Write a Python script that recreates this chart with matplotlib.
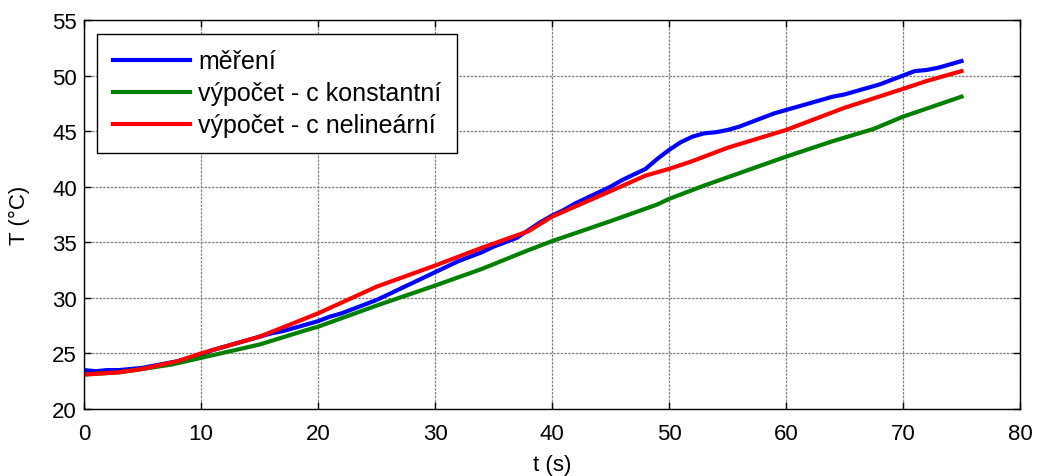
import matplotlib
matplotlib.use("Agg")
import matplotlib.pyplot as plt
import numpy as np

# Mereni (namerene hodnoty, cteno po 1 s)
t_mereni = np.arange(0, 76)
T_mereni = [
    23.5, 23.4, 23.5, 23.5, 23.6, 23.7, 23.9, 24.1, 24.3, 24.6,
    24.9, 25.3, 25.6, 25.9, 26.2, 26.5, 26.8, 27.0, 27.3, 27.6,
    27.9, 28.3, 28.6, 29.0, 29.4, 29.8, 30.3, 30.8, 31.3, 31.8,
    32.3, 32.8, 33.3, 33.7, 34.1, 34.6, 35.0, 35.4, 36.1, 36.8,
    37.4, 37.9, 38.5, 39.0, 39.5, 40.0, 40.6, 41.1, 41.6, 42.5,
    43.3, 44.0, 44.5, 44.8, 44.9, 45.1, 45.4, 45.8, 46.2, 46.6,
    46.9, 47.2, 47.5, 47.8, 48.1, 48.3, 48.6, 48.9, 49.2, 49.6,
    50.0, 50.4, 50.5, 50.7, 51.0, 51.3,
]

# Vypocet - c konstantni
t_konst = [0, 3, 5, 7.5, 10, 15, 19, 20, 25, 30, 34, 38, 40, 45, 49, 50,
           53, 56.5, 60, 64, 67.5, 70, 75]
T_konst = [23.1, 23.3, 23.6, 24.0, 24.6, 25.8, 27.1, 27.4, 29.3, 31.1, 32.6,
           34.3, 35.1, 36.9, 38.4, 38.9, 40.1, 41.4, 42.7, 44.1, 45.2, 46.3, 48.1]

# Vypocet - c nelinearni
t_nelin = [0, 3, 5, 8, 10, 15, 20, 25, 30, 34, 38, 40, 45, 48, 50, 52, 55,
           60, 65, 70, 72, 75]
T_nelin = [23.1, 23.3, 23.6, 24.3, 25.0, 26.5, 28.6, 31.0, 32.9, 34.5, 36.0,
           37.3, 39.6, 41.0, 41.6, 42.3, 43.5, 45.1, 47.1, 48.8, 49.5, 50.4]

x_ticks = np.arange(0, 81, 10)
y_ticks = np.arange(20, 56, 5)

plt.rcParams["font.family"] = ["Liberation Sans", "DejaVu Sans"]

fig = plt.figure(figsize=(10.37, 4.77), dpi=100)
ax = fig.add_axes([0.081, 0.1405, 0.9026, 0.8155])

lw = 3.0
ax.plot(t_mereni, T_mereni, color="#0000ff", linewidth=lw, label="měření")
ax.plot(t_konst, T_konst, color="#008000", linewidth=lw, label="výpočet - c konstantní")
ax.plot(t_nelin, T_nelin, color="#ff0000", linewidth=lw, label="výpočet - c nelineární")

ax.set_xlim(0, 80)
ax.set_ylim(20, 55)
ax.set_xticks(x_ticks)
ax.set_yticks(y_ticks)
ax.tick_params(direction="in", top=True, right=True, length=5, labelsize=16,
               width=1)
ax.tick_params(axis="x", pad=10)
ax.tick_params(axis="y", pad=5)
ax.grid(True, color="#808080", linestyle=(0, (2, 1)), linewidth=0.9)
for s in ax.spines.values():
    s.set_linewidth(1.0)

ax.set_xlabel("t (s)", fontsize=16, labelpad=7)
ax.set_ylabel("T (°C)", fontsize=16, labelpad=16)

leg = ax.legend(loc="upper left", fontsize=18, handlelength=3.1,
                handletextpad=0.32, borderpad=0.62, labelspacing=0.32,
                borderaxespad=0, fancybox=False, framealpha=1,
                edgecolor="black", bbox_to_anchor=(0.014, 0.964))
leg.get_frame().set_linewidth(1.0)
for line in leg.get_lines():
    line.set_linewidth(3.0)

fig.savefig("out.png", dpi=100)
